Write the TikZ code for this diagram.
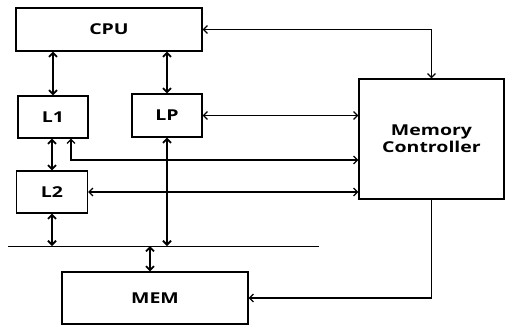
\documentclass[tikz,border=0pt]{standalone}
\usepackage{fontspec}
\setmainfont[FakeStretch=1.3]{Open Sans}
\usetikzlibrary{arrows.meta,calc}

\begin{document}
\begin{tikzpicture}[x=1pt,y=-1pt,
  unit/.style={draw,line width=1.2pt,inner sep=0pt,font=\fontsize{15}{17}\selectfont\bfseries},
  link/.style={line width=1.2pt,arrows={Straight Barb[length=4pt,width=8pt]-Straight Barb[length=4pt,width=8pt]}},
  onto/.style={line width=1.2pt,-{Straight Barb[length=4pt,width=8pt]}}]
\useasboundingbox (0,0) rectangle (505,325);
% boxes
\node[unit,minimum width=186pt,minimum height=43pt] (cpu) at (109,29.5) {CPU};
\node[unit,minimum width=70pt,minimum height=42pt] (l1) at (53,117) {L1};
\node[unit,minimum width=70pt,minimum height=43pt] (lp) at (167,115.5) {LP};
\node[unit,minimum width=71pt,minimum height=42pt] (l2) at (52,192) {L2};
\node[unit,minimum width=186pt,minimum height=52pt] (mem) at (155,298) {MEM};
\node[unit,minimum width=145pt,minimum height=120pt,align=center] (mc) at (431.5,139) {Memory\\Controller};
% shared line
\coordinate (busl) at (8,246);
\coordinate (busr) at (319,246);
\draw[line width=1pt] (busl) -- (busr);
% vertical links
\path[link,line width=1.8pt]
(l1.north) edge (l1.north |- cpu.south)
(lp.north) edge (lp.north |- cpu.south)
(l2.north) edge (l2.north |- l1.south)
(l2.south) edge (l2.south |- busl)
(lp.south) edge (lp.south |- busl)
([xshift=-5pt]mem.north) edge ([xshift=-5pt]mem.north |- busl)
;
% links to the controller
\path[link]
(lp.east) edge (lp.east -| mc.west)
(l2.east) edge (l2.east -| mc.west)
;
\draw[link] ([xshift=18pt]l1.south) |- ([yshift=-21pt]mc.west);
\draw[link] (cpu.east) -| (mc.north);
\draw[onto] (mc.south) |- (mem.east);
\end{tikzpicture}
\end{document}
